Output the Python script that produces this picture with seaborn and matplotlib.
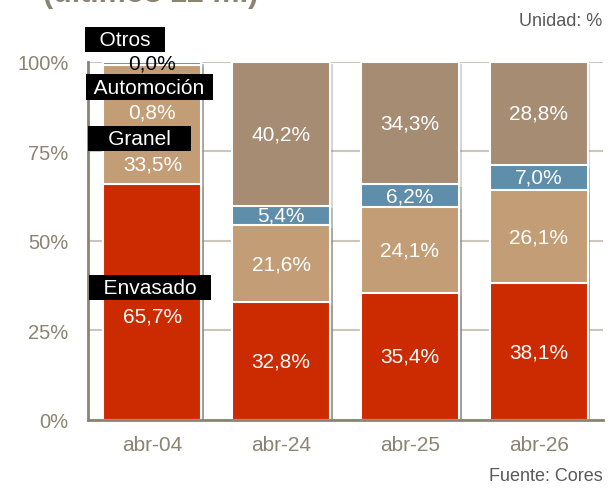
import matplotlib
matplotlib.use("Agg")
import matplotlib.pyplot as plt
import matplotlib.patheffects as pe
import numpy as np
import pandas as pd
import seaborn as sns

# data
categorias = ["abr-04", "abr-24", "abr-25", "abr-26"]
envasado = [65.7, 32.8, 35.4, 38.1]
granel = [33.5, 21.6, 24.1, 26.1]
automocion = [0.8, 5.4, 6.2, 7.0]
otros = [0.0, 40.2, 34.3, 28.8]
series = ["Envasado", "Granel", "Automoción", "Otros"]
valores = [envasado, granel, automocion, otros]
colores = ["#CC2A00", "#C39D75", "#5F8EAA", "#A58C72"]
yticks = [0, 25, 50, 75, 100]

### STYLE ###
sns.set_style("white")
plt.rcParams["font.family"] = ["Liberation Sans", "DejaVu Sans"]
brown = "#8C8473"
grid_c = "#CBC5BA"

fig = plt.figure(figsize=(6.16, 4.89), dpi=100)
ax = fig.add_axes([88 / 616, 1 - 420.7 / 489, 515 / 616, 358 / 489])

# cumulative sums, drawn from the top layer down
df = pd.DataFrame(dict(zip(series, valores)), index=categorias)
cum = df.cumsum(axis=1)
for i in range(len(series) - 1, -1, -1):
    s = series[i]
    sns.barplot(x=categorias, y=cum[s].values, color=colores[i], width=0.76,
                edgecolor="white", linewidth=1.5, saturation=1, ax=ax, zorder=3)

shadow = [pe.SimplePatchShadow(offset=(2, -2), shadow_rgbFace="#888888", alpha=0.35), pe.Normal()]
for p in ax.patches:
    p.set_path_effects(shadow)

# value labels (centered in each segment)
lbl_pos = {}  # manual positions for first bar
lbl_pos[(0, "Envasado")] = 28.9
lbl_pos[(0, "Granel")] = 71.4
lbl_pos[(0, "Automoción")] = 86.0
lbl_pos[(0, "Otros")] = 99.6
for j, cat in enumerate(categorias):
    base = 0
    for i, s in enumerate(series):
        v = df.loc[cat, s]
        y = lbl_pos.get((j, s), base + v / 2)
        col = "black" if (j == 0 and s == "Otros") else "white"
        ax.text(j, y, f"{v:.1f}%".replace(".", ","), ha="center", va="center",
                fontsize=15, color=col, zorder=6)
        base += v

# series name boxes on first bar
name_pos = {"Otros": (-0.21, 106.1), "Automoción": (-0.02, 92.9),
            "Granel": (-0.10, 78.6), "Envasado": (-0.02, 36.9)}
name_txt = {"Otros": "  Otros  ", "Automoción": " Automoción ",
            "Granel": "   Granel   ", "Envasado": "  Envasado  "}
for s in series:
    x, y = name_pos[s]
    ax.text(x, y, name_txt[s], ha="center", va="center", fontsize=15, color="white",
            zorder=7, clip_on=False,
            bbox=dict(boxstyle="square,pad=0.15", fc="black", ec="none"))

ax.set_ylim(0, 100)
ax.set_xlim(-0.5, 3.5)
ax.set_yticks(yticks)
ax.set_yticklabels([f"{t}%" for t in yticks])
ax.yaxis.grid(True, color=grid_c, linewidth=1.5, zorder=0)
ax.set_axisbelow(True)
ax.tick_params(axis="y", length=0, pad=14, labelsize=14.5, labelcolor=brown)
ax.tick_params(axis="x", length=0, pad=11, labelsize=15, labelcolor=brown)
for sp in ["top", "right"]:
    ax.spines[sp].set_visible(False)
for sp in ["left", "bottom"]:
    ax.spines[sp].set_color(brown)
    ax.spines[sp].set_linewidth(2)
    ax.spines[sp].set_zorder(5)

# title is cut off at the top edge in the original
fig.text(43 / 616, 1 - 2 / 489, "(últimos 12 m.)", fontsize=22, fontweight="bold",
         color=brown, ha="left", va="baseline")
fig.text(602 / 616, 1 - 21.7 / 489, "Unidad: %", fontsize=13, color="#595959",
         ha="right", va="center")
fig.text(602.7 / 616, 1 - 477 / 489, "Fuente: Cores", fontsize=13, color="#595959",
         ha="right", va="center")

plt.savefig("out.png", dpi=100)
plt.close()
